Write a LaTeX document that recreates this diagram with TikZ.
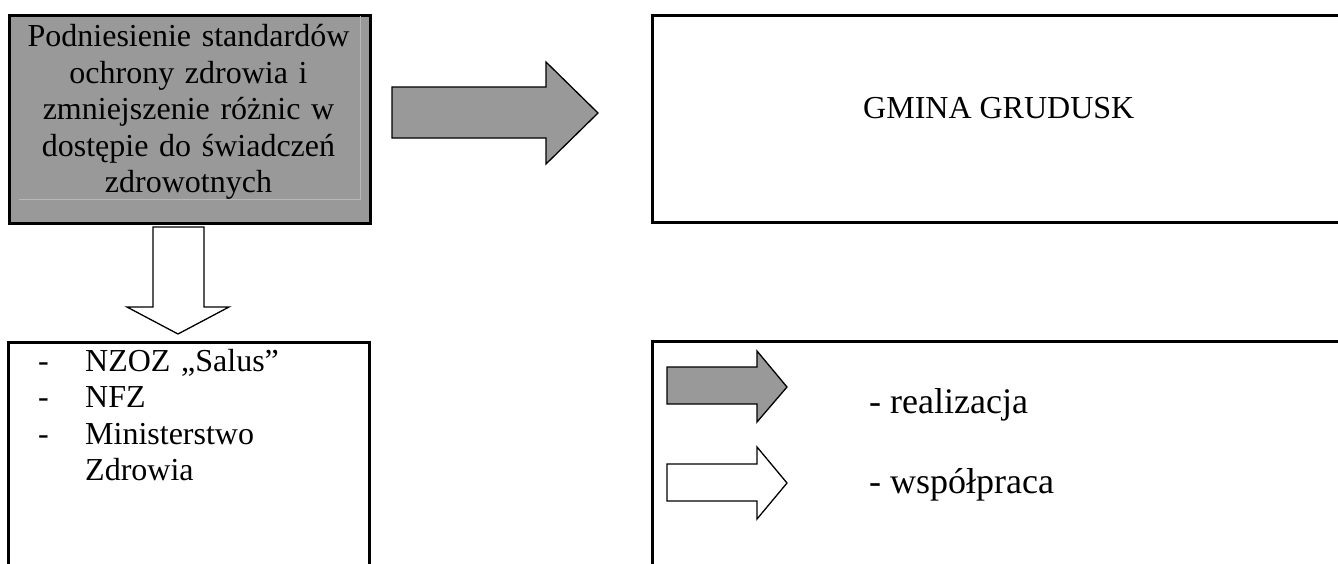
\documentclass[tikz,border=0pt]{standalone}
\usepackage{fontspec}
\setmainfont{Liberation Serif}
\definecolor{boxgray}{HTML}{999999}
\definecolor{faintgray}{HTML}{B8B8B8}
\tikzset{
  frame/.style={draw=black, line width=3pt},
  blockarrow/.style={draw=black, line width=1.3pt, line join=miter},
  body/.style={font=\fontsize{32}{36.5}\selectfont, inner sep=0pt},
  legendtext/.style={font=\fontsize{36}{40}\selectfont, inner sep=0pt, anchor=base west},
}
\begin{document}
\begin{tikzpicture}[x=1pt, y=-1pt]
\useasboundingbox (0,0) rectangle (1338,563);
% top-left grey box
\node[frame, fill=boxgray, minimum width=361pt, minimum height=208pt, anchor=north west, inner sep=0pt] (goal) at (8,14) {};
\draw[faintgray, line width=1pt] (19,199) -- (360,199) -- (360,16);
\node[body, text width=340pt, align=center, anchor=base] (goaltext) at (188.5,46.5)
  {Podniesienie standardów\\ochrony zdrowia i\\zmniejszenie różnic w\\dostępie do świadczeń\\zdrowotnych};
% GMINA box (right edge off the page)
\coordinate (g1) at (652,15);
\draw[frame] (1350,15) -- (g1) -- (652,222) -- (1350,222);
\node[body, anchor=base west] (gmina) at (863,118) {GMINA GRUDUSK};
% big grey arrow
\draw[blockarrow, fill=boxgray] (392,87) -- (546,87) -- (546,62) -- (598,113) -- (546,164) -- (546,138) -- (392,138) -- cycle;
% down arrow
\draw[blockarrow, fill=white] (153,227) -- (204,227) -- (204,307) -- (229,307) -- (178,334) -- (127,307) -- (153,307) -- cycle;
% bottom-left box (bottom off the page)
\draw[frame] (8,575) -- (8,342) -- (369,342) -- (369,575);
\node[body, text width=30pt, anchor=base west, align=left] (dashes) at (38,371) {-\\-\\-};
\node[body, text width=270pt, anchor=base west, align=left] (partners) at (85,371)
  {NZOZ „Salus”\\NFZ\\Ministerstwo\\Zdrowia};
% legend box
\draw[frame] (1350,341) -- (652,341) -- (652,575);
\draw[blockarrow, fill=boxgray] (667,367) -- (757,367) -- (757,351) -- (787,387) -- (757,422) -- (757,404) -- (667,404) -- cycle;
\draw[blockarrow, fill=white] (667,464) -- (757,464) -- (757,447) -- (787,483) -- (757,519) -- (757,501) -- (667,501) -- cycle;
\node[legendtext] (real) at (869,413) {- realizacja};
\node[legendtext] (wsp) at (869,493) {- współpraca};
\end{tikzpicture}
\end{document}
